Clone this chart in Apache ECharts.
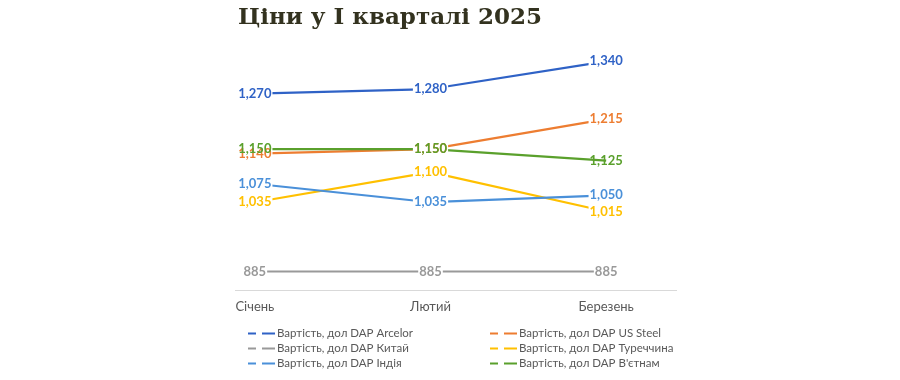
<!DOCTYPE html>
<html><head><meta charset="utf-8">
<script src="https://cdn.jsdelivr.net/npm/echarts@6/dist/echarts.min.js"></script>
<style>html,body{margin:0;padding:0;background:#fff}#c{width:900px;height:380px}</style>
</head><body><div id="c"></div>
<script>
const titleText = 'Ціни у I кварталі 2025';
const categories = ['Січень', 'Лютий', 'Березень'];
const seriesNames = ['Вартість, дол DAP Arcelor', 'Вартість, дол DAP US Steel', 'Вартість, дол DAP Китай', 'Вартість, дол DAP Туреччина', 'Вартість, дол DAP Індія', "Вартість, дол DAP В'єтнам"];
const arcelor = [1270, 1280, 1340];
const usSteel = [1140, 1150, 1215];
const china = [885, 885, 885];
const turkey = [1035, 1100, 1015];
const india = [1075, 1035, 1050];
const vietnam = [1150, 1150, 1125];
const seriesValues = [arcelor, usSteel, china, turkey, india, vietnam];
const colors = ['#2F62C6', '#ED7D31', '#999999', '#FFC000', '#4A90D9', '#5AA02C'];

const chart = echarts.init(document.getElementById('c'));
const legendIcon = 'path://M0,0 h8 v2 h-8 z M14,0 h13 v2 h-13 z';
const legendCommon = {
  orient: 'vertical', top: 326, height: 54, padding: 0, itemWidth: 27, itemHeight: 2, itemGap: 0,
  icon: legendIcon, selectedMode: false,
  textStyle: { fontFamily: 'Lato', fontSize: 11.5, color: '#595959', lineHeight: 15, padding: [0, 0, 0, -3] }
};
const legendItem = i => ({ name: seriesNames[i], itemStyle: { color: colors[i], opacity: 1 } });
chart.setOption({
  animation: false,
  title: { text: titleText, left: 233, top: 2, textStyle: { fontFamily: 'DejaVu Serif', fontWeight: 'bold', fontSize: 23, color: '#33321F' } },
  grid: { left: 167, width: 527, top: 59, height: 231 },
  graphic: [{ type: 'line', shape: { x1: 235, y1: 290.5, x2: 677, y2: 290.5 }, style: { stroke: '#D9D9D9', lineWidth: 1 } }],
  legend: [
    Object.assign({}, legendCommon, { left: 248, data: [legendItem(0), legendItem(2), legendItem(4)] }),
    Object.assign({}, legendCommon, { left: 490, data: [legendItem(1), legendItem(3), legendItem(5)] })
  ],
  xAxis: {
    type: 'category', data: categories, boundaryGap: true,
    axisLine: { show: false }, axisTick: { show: false },
    axisLabel: { margin: 10, fontFamily: 'Lato', fontSize: 13, color: '#595959' }
  },
  yAxis: { type: 'value', min: 845, max: 1345, show: false, splitLine: { show: false } },
  series: seriesValues.map((vals, i) => ({
    name: seriesNames[i], type: 'line', data: vals, color: colors[i],
    symbol: 'circle', symbolSize: 0.01, showSymbol: true,
    itemStyle: { color: colors[i] },
    lineStyle: { width: 2.2, color: colors[i] },
    label: {
      show: true, position: 'inside', align: 'center', verticalAlign: 'middle', color: colors[i],
      fontFamily: 'Lato', fontWeight: 'bold', fontSize: 13,
      backgroundColor: i === 5 ? 'transparent' : '#fff', padding: [0, 1],
      formatter: p => p.value.toLocaleString('en-US')
    },
    labelLayout: { hideOverlap: false }
  }))
});
</script></body></html>
